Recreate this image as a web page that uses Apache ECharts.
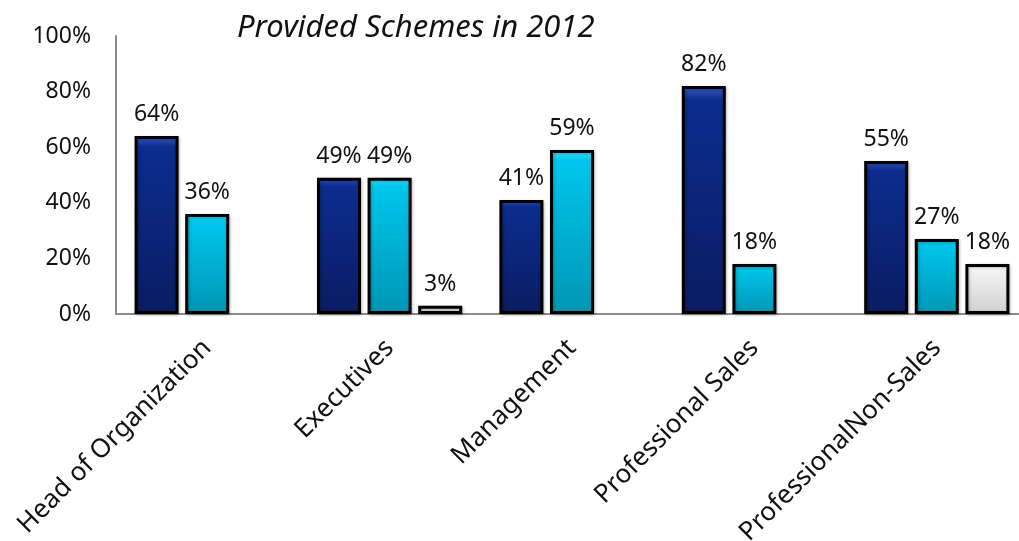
<!DOCTYPE html>
<html>
<head>
<meta charset="utf-8">
<script src="https://cdn.jsdelivr.net/npm/echarts@6/dist/echarts.min.js"></script>
<style>
  html, body { margin: 0; padding: 0; background: #fff; }
  #chart { width: 1019px; height: 541px; }
</style>
</head>
<body>
<div id="chart"></div>
<script>
// Share of organizations providing each scheme type, by employee group (2012)
const categories = ['Head of Organization', 'Executives', 'Management', 'Professional Sales', 'ProfessionalNon-Sales'];
const schemeA = [64, 49, 41, 82, 55];
const schemeB = [36, 49, 59, 18, 27];
const schemeC = [null, 3, null, null, 18];
const yTicks = [0, 20, 40, 60, 80, 100];

const FONT = '"Noto Sans", sans-serif';

function grad(top, mid, bottom) {
  return new echarts.graphic.LinearGradient(0, 0, 0, 1, [
    { offset: 0, color: top },
    { offset: 0.06, color: mid },
    { offset: 1, color: bottom }
  ]);
}

const fills = [
  grad('#3a5cc8', '#0c2d8e', '#0a1c62'),
  grad('#5ae0ff', '#00c6ec', '#0096b4'),
  grad('#ffffff', '#f6f6f6', '#cfcfcf')
];

function barSeries(name, values, idx) {
  return {
    name: name,
    type: 'bar',
    data: values,
    barWidth: 44,
    barGap: '15%',
    itemStyle: {
      color: fills[idx],
      borderColor: '#000',
      borderWidth: 3,
      shadowColor: 'rgba(0,0,0,0.25)',
      shadowBlur: 3,
      shadowOffsetX: 1,
      shadowOffsetY: 1
    },
    label: {
      show: true,
      position: 'top',
      distance: 10,
      formatter: p => p.value + '%',
      fontFamily: FONT,
      fontSize: 23,
      color: '#111'
    }
  };
}

const chart = echarts.init(document.getElementById('chart'), null, { renderer: 'canvas' });
chart.setOption({
  animation: false,
  backgroundColor: '#fff',
  title: {
    text: 'Provided Schemes in 2012',
    left: 232,
    top: 8,
    textStyle: { fontFamily: FONT, fontStyle: 'italic', fontWeight: 'normal', fontSize: 31, color: '#111' }
  },
  grid: { left: 116, top: 36, width: 912, height: 278, containLabel: false, outerBoundsMode: 'none' },
  xAxis: {
    type: 'category',
    data: categories,
    axisLine: { lineStyle: { color: '#8c8c8c', width: 2 } },
    axisTick: { show: false },
    axisLabel: {
      rotate: 45,
      interval: 0,
      margin: 30,
      fontFamily: FONT,
      fontSize: 26,
      color: '#111'
    }
  },
  yAxis: {
    type: 'value',
    min: 0,
    max: 100,
    interval: 20,
    axisLine: { show: true, lineStyle: { color: '#8c8c8c', width: 2 } },
    axisTick: { show: false },
    splitLine: { show: false },
    axisLabel: {
      margin: 25,
      fontFamily: FONT,
      fontSize: 23,
      color: '#111',
      formatter: v => (yTicks.includes(v) ? v + '%' : '')
    }
  },
  series: [
    barSeries('A', schemeA, 0),
    barSeries('B', schemeB, 1),
    barSeries('C', schemeC, 2)
  ]
});
</script>
</body>
</html>
